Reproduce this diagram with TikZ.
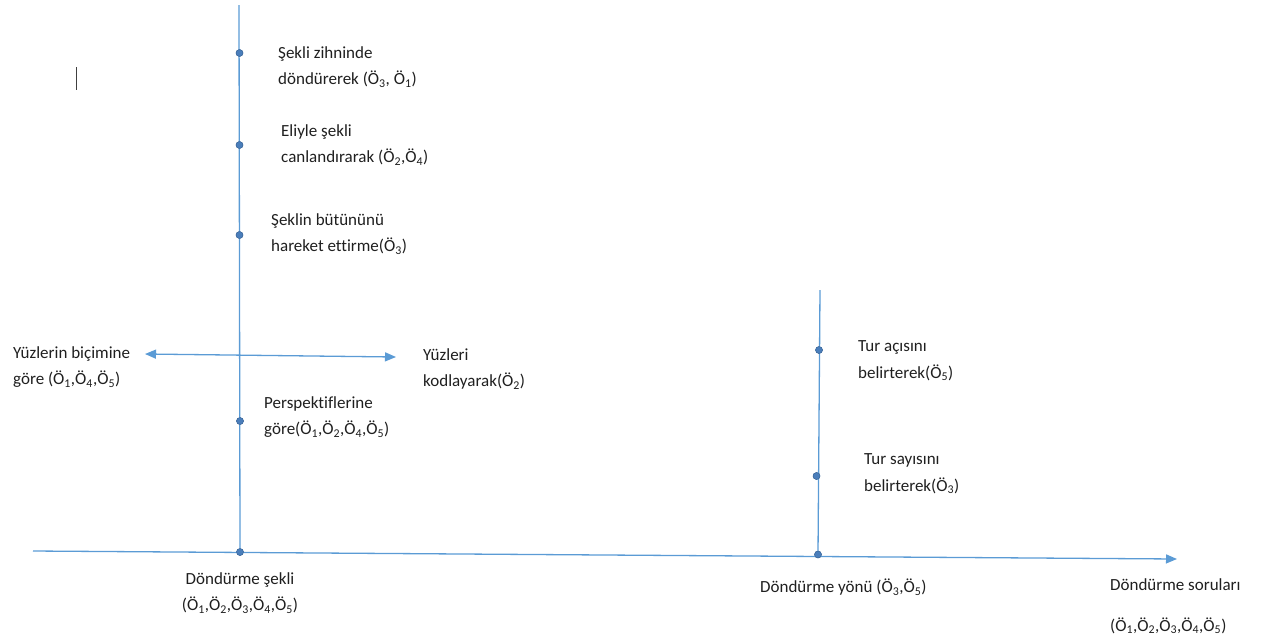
\documentclass[tikz,border=0pt]{standalone}
\usepackage{fontspec}
\setmainfont[Ligatures=NoCommon]{Carlito}
\usetikzlibrary{arrows.meta}
\definecolor{ln}{HTML}{5B9BD5}
\definecolor{dotc}{HTML}{4A7EBB}
\definecolor{txt}{HTML}{1F1F1F}
\newcommand{\Os}[1]{Ö\textsubscript{#1}}
\tikzset{
  axis/.style={draw=ln, line width=1.3pt},
  tip/.style={-{Triangle[length=11pt,width=9pt]}},
  dot/.style={circle, fill=dotc, draw=dotc!80!black, line width=0.4pt, inner sep=0pt, minimum size=7pt},
  lbl/.style={anchor=west, align=left, text=txt, inner sep=0pt, font=\fontsize{17}{26.5}\selectfont},
}
\begin{document}
\begin{tikzpicture}[x=1pt,y=-1pt]
\useasboundingbox (0,0) rectangle (1264,641);
% coordinates
\coordinate (hl) at (33,551);
\coordinate (hr) at (1177,559);
\coordinate (v1t) at (239,5);
\coordinate (v2t) at (820,290);
\coordinate (dl) at (145,354);
\coordinate (dr) at (396,357);
% dots
\node[dot] (d0) at (240,552) {};
\node[dot] (d1) at (239.5,53) {};
\node[dot] (d2) at (239.5,145) {};
\node[dot] (d3) at (239.5,235) {};
\node[dot] (d4) at (240,421) {};
\node[dot] (e0) at (818,554.5) {};
\node[dot] (e1) at (819,350) {};
\node[dot] (e2) at (816.5,476) {};
% lines
\draw[axis] (v1t) -- (d0.center);
\draw[axis] (v2t) -- (e0.center);
\draw[axis,tip] (hl) -- (hr);
\draw[axis,{Triangle[length=11pt,width=9pt]}-{Triangle[length=11pt,width=9pt]}] (dl) -- (dr);
% redraw dots on top
\foreach \n in {d0,d1,d2,d3,d4,e0,e1,e2} {\node[dot] at (\n) {};}
% cursor mark
\coordinate (c1) at (76,67);
\coordinate (c2) at (76,90);
\draw[line width=1pt, color=black!75] (c1) -- (c2);
% labels
\node[lbl] (t1) at (278,67) {Şekli zihninde\\döndürerek (\Os{3}, \Os{1})};
\node[lbl] (t2) at (281,145) {Eliyle şekli\\canlandırarak (\Os{2},\Os{4})};
\node[lbl] (t3) at (271,234) {Şeklin bütününü\\hareket ettirme(\Os{3})};
\node[lbl] (t4) at (13,367) {Yüzlerin biçimine\\göre (\Os{1},\Os{4},\Os{5})};
\node[lbl] (t5) at (423,369) {Yüzleri\\kodlayarak(\Os{2})};
\node[lbl] (t6) at (264,417) {Perspektiflerine\\göre(\Os{1},\Os{2},\Os{4},\Os{5})};
\node[lbl, anchor=center, align=center] (t7) at (240,593) {Döndürme şekli\\(\Os{1},\Os{2},\Os{3},\Os{4},\Os{5})};
\node[lbl] (t8) at (858,361) {Tur açısını\\belirterek(\Os{5})};
\node[lbl] (t9) at (864,474) {Tur sayısını\\belirterek(\Os{3})};
\node[lbl] (t10) at (760,587) {Döndürme yönü (\Os{3},\Os{5})};
\node[lbl, font=\fontsize{17}{41}\selectfont] (t11) at (1110,606) {Döndürme soruları\\(\Os{1},\Os{2},\Os{3},\Os{4},\Os{5})};
\end{tikzpicture}
\end{document}
